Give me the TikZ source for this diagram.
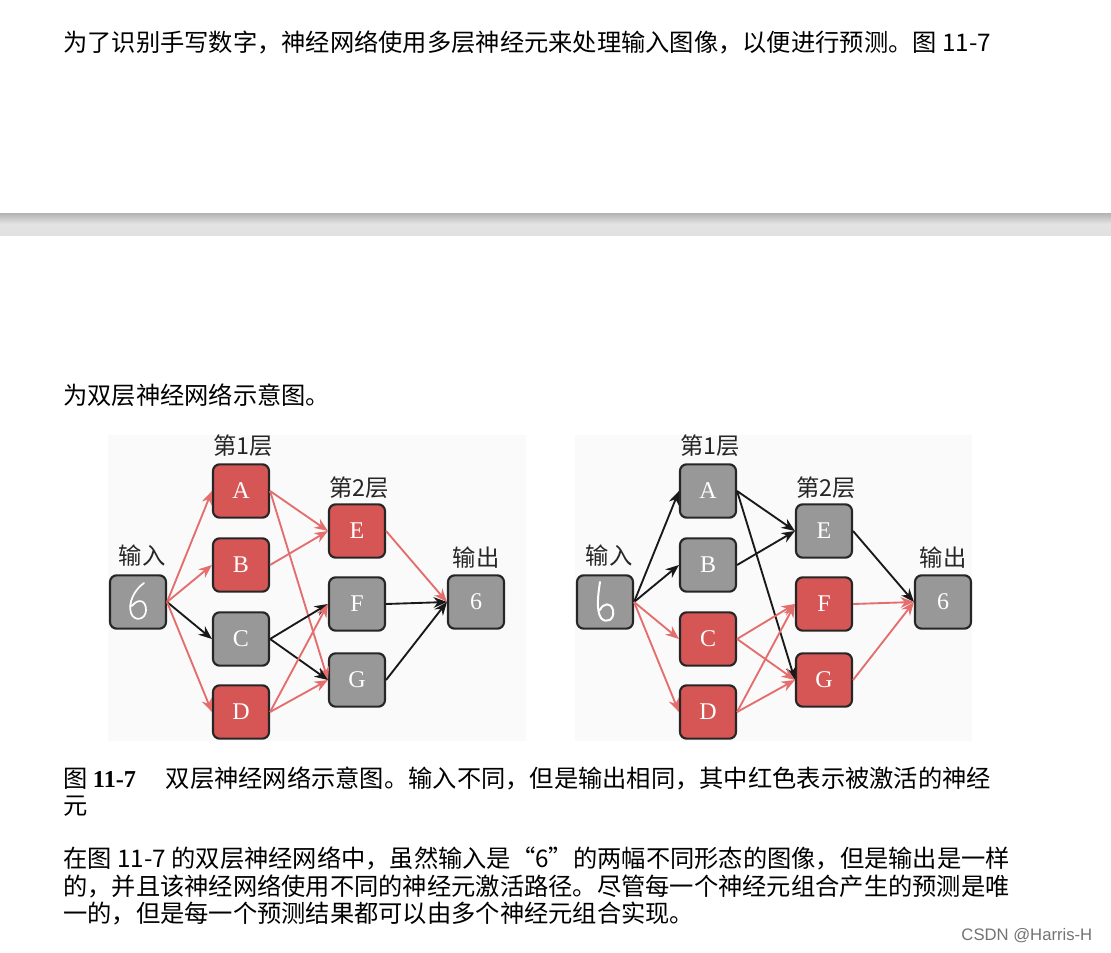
\documentclass[tikz,border=0pt]{standalone}
\usepackage{fontspec}
\newfontfamily\cjk{Noto Sans CJK SC}
\setsansfont{Liberation Sans}
\setmainfont{Liberation Serif}
\usetikzlibrary{arrows.meta}
\definecolor{redbox}{RGB}{214,86,86}
\definecolor{redarr}{RGB}{228,110,110}
\definecolor{graybox}{RGB}{152,152,152}
\tikzset{
  nbox/.style={draw=black!85,line width=1.6pt,rounded corners=5pt,minimum width=42pt,minimum height=40pt,text=white,font=\fontsize{18}{18}\selectfont},
  rb/.style={nbox,fill=redbox},
  gb/.style={nbox,fill=graybox},
  lab/.style={font=\cjk\fontsize{17.5}{17.5}\selectfont,text=black!85},
  ra/.style={draw=redarr,line width=1.4pt,-{Stealth[length=10pt,width=8pt]}},
  ba/.style={draw=black!90,line width=1.4pt,-{Stealth[length=10pt,width=8pt]}},
  body/.style={anchor=west,font=\cjk\fontsize{18.2}{18.2}\selectfont,inner sep=0pt},
}
\begin{document}
\begin{tikzpicture}[x=0.75pt,y=-0.75pt]
\useasboundingbox (0,0) rectangle (1111,953);
\fill[white] (0,0) rectangle (1111,953);
\shade[top color=black!30,bottom color=black!12,middle color=black!11] (0,213) rectangle (1111,235);
\node[body] (t1) at (63,42) {为了识别手写数字，神经网络使用多层神经元来处理输入图像，以便进行预测。图 11-7};
\node[body] (t2) at (63,395) {为双层神经网络示意图。};
\fill[black!2] (108,435) rectangle (526,741);
\fill[black!2] (575,435) rectangle (972,741);
\foreach \o/\p/\a/\b/\c/\d/\e/\f/\g in {0/L/rb/rb/gb/rb/rb/gb/gb, 467/R/gb/gb/rb/rb/gb/rb/rb}{
  \node[gb] (\p-in) at (138+\o,602) {};
  \node[\a] (\p-A) at (241+\o,491) {A};
  \node[\b] (\p-B) at (241+\o,565) {B};
  \node[\c] (\p-C) at (241+\o,639) {C};
  \node[\d] (\p-D) at (241+\o,712) {D};
  \node[\e] (\p-E) at (357+\o,531) {E};
  \node[\f] (\p-F) at (357+\o,604) {F};
  \node[\g] (\p-G) at (357+\o,680) {G};
  \node[gb] (\p-out) at (476+\o,602) {6};
  \node[lab] (\p-l1) at (243+\o,446) {第1层};
  \node[lab] (\p-l2) at (359+\o,488) {第2层};
  \node[lab] (\p-li) at (142+\o,556) {输入};
  \node[lab] (\p-lo) at (476+\o,558) {输出};
}
% handwritten sixes
\draw[white,line width=1.3pt,line cap=round] (144,583) .. controls (134,590) and (128,603) .. (131,613) .. controls (134,622) and (146,620) .. (146,610) .. controls (146,600) and (138,598) .. (132,606);
\draw[white,line width=1.5pt,line cap=round] (600,582) .. controls (598,595) and (596,610) .. (601,618) .. controls (606,624) and (615,620) .. (613,610) .. controls (611,602) and (603,603) .. (600,610);
% left arrows
\draw[ra] (L-in.east) -- (L-A.west);
\draw[ra] (L-in.east) -- (L-B.west);
\draw[ba] (L-in.east) -- (L-C.west);
\draw[ra] (L-in.east) -- (L-D.west);
\draw[ra] (L-A.east) -- (L-E.west);
\draw[ra] (L-A.east) -- (L-G.west);
\draw[ra] (L-B.east) -- (L-E.west);
\draw[ba] (L-C.east) -- (L-F.west);
\draw[ba] (L-C.east) -- (L-G.west);
\draw[ra] (L-D.east) -- (L-F.west);
\draw[ra] (L-D.east) -- (L-G.west);
\draw[ra] (L-E.east) -- (L-out.west);
\draw[ba] (L-F.east) -- (L-out.west);
\draw[ba] (L-G.east) -- (L-out.west);
% right arrows
\draw[ba] (R-in.east) -- (R-A.west);
\draw[ba] (R-in.east) -- (R-B.west);
\draw[ra] (R-in.east) -- (R-C.west);
\draw[ra] (R-in.east) -- (R-D.west);
\draw[ba] (R-A.east) -- (R-E.west);
\draw[ba] (R-A.east) -- (R-G.west);
\draw[ba] (R-B.east) -- (R-E.west);
\draw[ra] (R-C.east) -- (R-F.west);
\draw[ra] (R-C.east) -- (R-G.west);
\draw[ra] (R-D.east) -- (R-F.west);
\draw[ra] (R-D.east) -- (R-G.west);
\draw[ba] (R-E.east) -- (R-out.west);
\draw[ra] (R-F.east) -- (R-out.west);
\draw[ra] (R-G.east) -- (R-out.west);
\node[body] (cap) at (63,778) {图 {\bfseries\rmfamily 11-7}\quad\ 双层神经网络示意图。输入不同，但是输出相同，其中红色表示被激活的神经};
\node[body] (cap2) at (63,806) {元};
\node[body] (p1) at (63,858) {在图 11-7 的双层神经网络中，虽然输入是“6”的两幅不同形态的图像，但是输出是一样};
\node[body] (p2) at (63,886) {的，并且该神经网络使用不同的神经元激活路径。尽管每一个神经元组合产生的预测是唯};
\node[body] (p3) at (63,914) {一的，但是每一个预测结果都可以由多个神经元组合实现。};
\node[anchor=east,font=\sffamily\fontsize{12.5}{12.5}\selectfont,text=black!55] (wm) at (1097,936) {CSDN @Harris-H};
\end{tikzpicture}
\end{document}
